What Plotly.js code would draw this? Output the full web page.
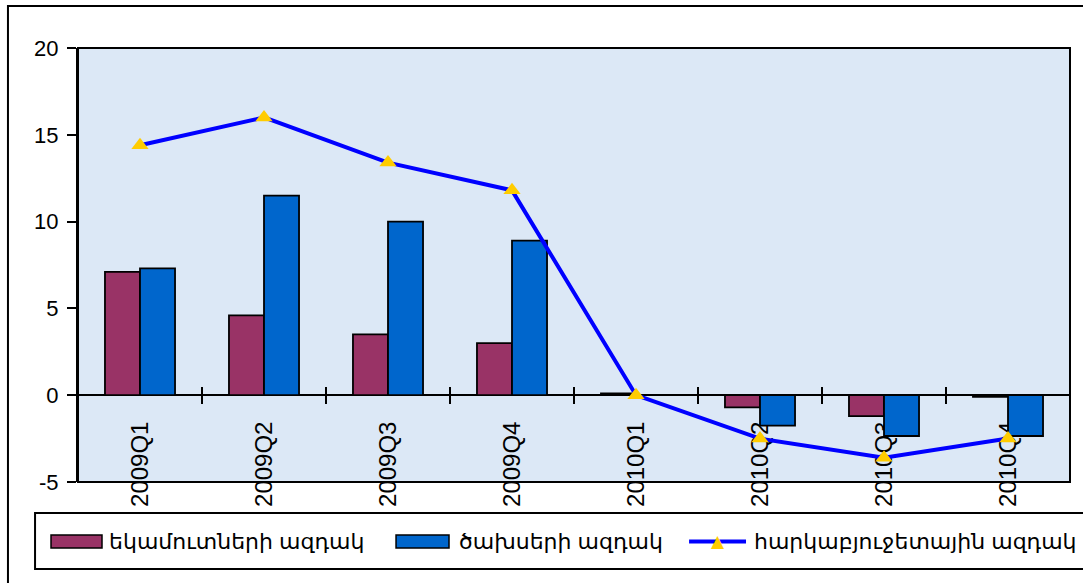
<!DOCTYPE html>
<html>
<head>
<meta charset="utf-8">
<script src="https://cdn.plot.ly/plotly-3.0.1.min.js"></script>
<style>
html,body{margin:0;padding:0;background:#fff;}
#chart{width:1083px;height:583px;}
</style>
</head>
<body>
<div id="chart"></div>
<script>
// ---- data ----
var categories = ["2009Q1","2009Q2","2009Q3","2009Q4","2010Q1","2010Q2","2010Q3","2010Q4"];
var revenueImpulse = [7.1, 4.6, 3.5, 3.0, 0.1, -0.7, -1.2, -0.1];
var expenditureImpulse = [7.3, 11.5, 10.0, 8.9, 0.0, -1.75, -2.35, -2.35];
var fiscalImpulse = [14.4, 16.0, 13.4, 11.8, 0.0, -2.5, -3.6, -2.5];
var seriesNames = ["եկամուտների ազդակ", "ծախսերի ազդակ", "հարկաբյուջետային ազդակ"];
var yTickValues = [-5, 0, 5, 10, 15, 20];
var yTickLabels = ["-5", "0", "5", "10", "15", "20"];

var FONT = "Liberation Sans, Arial, DejaVu Sans, sans-serif";
var RED = "#993366", BLUE = "#0066CC", LINE = "#0000FF", GOLD = "#FFCC00";

var traces = [
  {type:"bar", name:seriesNames[0], x:categories, y:revenueImpulse,
   marker:{color:RED, line:{color:"#000", width:1.8}}, hoverinfo:"x+y"},
  {type:"bar", name:seriesNames[1], x:categories, y:expenditureImpulse,
   marker:{color:BLUE, line:{color:"#000", width:1.8}}, hoverinfo:"x+y"},
  {type:"scatter", mode:"lines+markers", name:seriesNames[2], x:categories, y:fiscalImpulse,
   line:{color:LINE, width:4},
   marker:{symbol:"triangle-up", size:15, color:GOLD, line:{width:0}}, hoverinfo:"x+y"},
  // helper trace so the secondary (inner-tick) axis has its categories
  {type:"scatter", mode:"none", x:categories, y:fiscalImpulse, xaxis:"x2",
   showlegend:false, hoverinfo:"skip"}
];

// legend geometry (paper fractions)
var legendItems = [
  {kind:"bar", color:RED,  sx0:-0.0272, sx1:0.0242, tx:0.0292},
  {kind:"bar", color:BLUE, sx0:0.3206,  sx1:0.374,  tx:0.382},
  {kind:"line", color:LINE, sx0:0.616,  sx1:0.6734, tx:0.679}
];
var legY = -0.137;

var shapes = [
  // plot frame
  {type:"rect", xref:"paper", yref:"paper", x0:0, x1:1, y0:0, y1:1,
   line:{color:"#000", width:2}, layer:"above"},
  // outer chart frame
  {type:"rect", xref:"paper", yref:"paper", x0:-0.0706, x1:1.1, y0:-0.4, y1:1.0968,
   line:{color:"#000", width:2}, layer:"below"},
  // legend box
  {type:"rect", xref:"paper", yref:"paper", x0:-0.0433, x1:1.1, y0:-0.2005, y1:-0.0714,
   line:{color:"#000", width:2}, fillcolor:"rgba(0,0,0,0)", layer:"above"}
];
var annotations = [];
legendItems.forEach(function(it, i){
  if (it.kind === "bar") {
    shapes.push({type:"rect", xref:"paper", yref:"paper", x0:it.sx0, x1:it.sx1,
      y0:-0.1521, y1:-0.1221, fillcolor:it.color, line:{color:"#000", width:1.5}});
  } else {
    shapes.push({type:"line", xref:"paper", yref:"paper", x0:it.sx0, x1:it.sx1,
      y0:legY, y1:legY, line:{color:it.color, width:4}});
    annotations.push({xref:"paper", yref:"paper", x:(it.sx0+it.sx1)/2, y:legY,
      text:"▲", showarrow:false, xanchor:"center", yanchor:"middle",
      font:{family:"DejaVu Sans", size:17, color:GOLD}});
  }
  annotations.push({xref:"paper", yref:"paper", x:it.tx, y:legY, text:seriesNames[i],
    showarrow:false, xanchor:"left", yanchor:"middle",
    font:{family:FONT, size:22, color:"#000"}});
});

var layout = {
  width:1083, height:583,
  margin:{l:78, r:13, t:48, b:101, pad:0},
  paper_bgcolor:"#ffffff",
  plot_bgcolor:"#dce8f6",
  barmode:"group", bargap:0.435, bargroupgap:0,
  showlegend:false,
  font:{family:FONT, size:22, color:"#000"},
  xaxis:{type:"category", anchor:"free", position:0.2, side:"bottom",
    showline:true, linecolor:"#000", linewidth:1.5,
    ticks:"outside", tickson:"boundaries", ticklen:8, tickwidth:1.5, tickcolor:"#000",
    tickangle:-90, ticklabelstandoff:16, showgrid:false, zeroline:false,
    tickfont:{family:FONT, size:24, color:"#000"}, layer:"below traces"},
  xaxis2:{type:"category", overlaying:"x", matches:"x", anchor:"free", position:0.2,
    side:"bottom", showline:false, ticks:"inside", tickson:"boundaries",
    ticklen:8, tickwidth:1.5, tickcolor:"#000", showticklabels:false,
    showgrid:false, zeroline:false, layer:"below traces"},
  yaxis:{range:[-5,20], tickvals:yTickValues, ticktext:yTickLabels,
    showline:true, linecolor:"#000", linewidth:2,
    ticks:"outside", ticklen:9, tickwidth:1.5, tickcolor:"#000",
    showgrid:false, zeroline:false, ticklabelstandoff:4,
    tickfont:{family:FONT, size:22, color:"#000"}},
  shapes:shapes,
  annotations:annotations
};

Plotly.newPlot("chart", traces, layout, {displayModeBar:false, staticPlot:false});
</script>
</body>
</html>
